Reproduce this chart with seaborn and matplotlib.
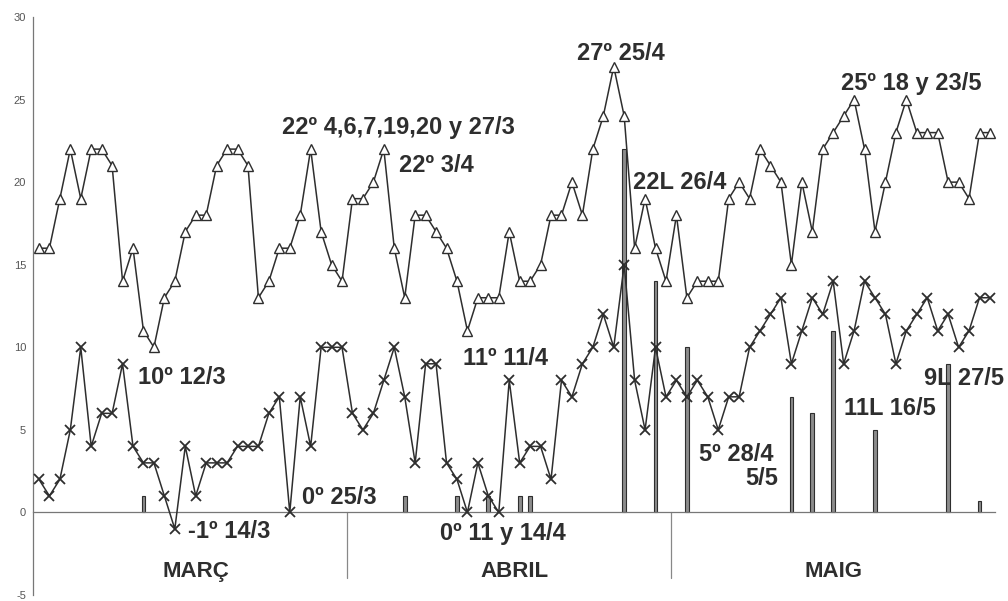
import numpy as np
import pandas as pd
import matplotlib
matplotlib.use("Agg")
import matplotlib.pyplot as plt
import seaborn as sns

# daily values, 1 March .. 31 May
tmax = [16, 16, 19, 22, 19, 22, 22, 21, 14, 16,
        11, 10, 13, 14, 17, 18, 18, 21, 22, 22,
        21, 13, 14, 16, 16, 18, 22, 17, 15, 14,
        19, 19, 20, 22, 16, 13, 18, 18, 17, 16,
        14, 11, 13, 13, 13, 17, 14, 14, 15, 18,
        18, 20, 18, 22, 24, 27, 24, 16, 19, 16,
        14, 18, 13, 14, 14, 14, 19, 20, 19, 22,
        21, 20, 15, 20, 17, 22, 23, 24, 25, 22,
        17, 20, 23, 25, 23, 23, 23, 20, 20, 19,
        23, 23]
tmin = [2, 1, 2, 5, 10, 4, 6, 6, 9, 4,
        3, 3, 1, -1, 4, 1, 3, 3, 3, 4,
        4, 4, 6, 7, 0, 7, 4, 10, 10, 10,
        6, 5, 6, 8, 10, 7, 3, 9, 9, 3,
        2, 0, 3, 1, 0, 8, 3, 4, 4, 2,
        8, 7, 9, 10, 12, 10, 15, 8, 5, 10,
        7, 8, 7, 8, 7, 5, 7, 7, 10, 11,
        12, 13, 9, 11, 13, 12, 14, 9, 11, 14,
        13, 12, 9, 11, 12, 13, 11, 12, 10, 11,
        13, 13]
rain_days = [11, 36, 41, 44, 47, 48, 57, 60, 63, 73, 75, 77, 81, 88, 91]
rain_l = [1, 1, 1, 1, 1, 1, 22, 14, 10, 7, 6, 11, 5, 9, 0.7]
months = ["MARÇ", "ABRIL", "MAIG"]
month_len = [31, 30, 31]
yticks = [-5, 0, 5, 10, 15, 20, 25, 30]

notes = [
    ("22º 4,6,7,19,20 y 27/3", 35.4, 23.3),
    ("22º 3/4", 39.0, 21.0),
    ("27º 25/4", 56.7, 27.8),
    ("22L 26/4", 62.3, 20.0),
    ("25º 18 y 23/5", 84.5, 26.0),
    ("10º 12/3", 14.7, 8.2),
    ("-1º 14/3", 19.2, -1.15),
    ("0º 25/3", 29.7, 0.9),
    ("11º 11/4", 45.6, 9.3),
    ("0º 11 y 14/4", 45.4, -1.3),
    ("5º 28/4", 67.7, 3.5),
    ("5/5", 70.2, 2.05),
    ("11L 16/5", 82.4, 6.3),
    ("9L 27/5", 89.5, 8.1),
]

days = np.arange(1, len(tmax) + 1)
df = pd.DataFrame({"dia": days, "max": tmax, "min": tmin})

sns.set_style("white")
plt.rcParams["font.family"] = ["Liberation Sans", "DejaVu Sans"]
plt.rcParams["axes.unicode_minus"] = False

fig = plt.figure(figsize=(10.08, 6.01), dpi=100)
ax = fig.add_axes([33 / 1008, 6 / 601, 972 / 1008, 578 / 601])

ink = "#2e2e2e"

# rainfall bars
ax.bar(rain_days, rain_l, width=0.35, color="#8c8c8c", edgecolor=ink,
       linewidth=0.8, zorder=1.5)

# max / min temperature
sns.lineplot(data=df, x="dia", y="max", ax=ax, color=ink, lw=1.1,
             marker="^", markersize=6.5, markerfacecolor="white",
             markeredgecolor=ink, markeredgewidth=1, zorder=3)
sns.lineplot(data=df, x="dia", y="min", ax=ax, color=ink, lw=1.1,
             marker="x", markersize=7.5, markeredgecolor=ink,
             markeredgewidth=1.3, zorder=3)

ax.set_xlim(0.43, 93.44)
ax.set_ylim(-5, 30)
ax.set_xlabel("")
ax.set_ylabel("")

# axes look
for s in ["top", "right"]:
    ax.spines[s].set_visible(False)
ax.spines["left"].set_color("#777777")
ax.spines["left"].set_linewidth(0.9)
ax.spines["bottom"].set_position(("data", 0))
ax.spines["bottom"].set_color("#777777")
ax.spines["bottom"].set_linewidth(0.9)
ax.spines["bottom"].set_bounds(0.43, len(tmax) + 0.5)

ax.set_yticks(yticks)
ax.tick_params(axis="y", direction="inout", length=6, width=0.8,
               color="#777777", labelsize=8, labelcolor="#555555", pad=2)
ax.set_xticks([])
ax.set_xticks(np.arange(0.5, len(tmax) + 1), minor=True)
ax.tick_params(axis="x", which="minor", direction="inout", length=7,
               width=0.8, color="#555555")

# month labels and separators
start = 1
for name, n in zip(months, month_len):
    mid = start + (n - 1) / 2
    ax.text(mid, -3.6, name, ha="center", va="center", fontsize=16,
            fontweight="bold", color=ink)
    start += n
for xd in [30.5, 61.5]:
    ax.plot([xd, xd], [0, -4.0], color="#888888", lw=0.9)

for txt, x, y in notes:
    ax.text(x, y, txt, ha="center", va="center", fontsize=17,
            fontweight="bold", color=ink, zorder=4)

fig.savefig("out.png", dpi=100, facecolor="white")
